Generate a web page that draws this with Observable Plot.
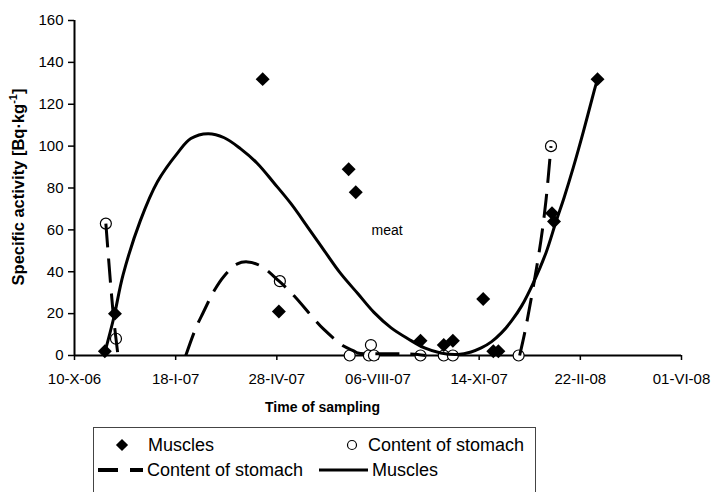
<!DOCTYPE html>
<html>
<head>
<meta charset="utf-8">
<script src="https://cdn.jsdelivr.net/npm/d3@7"></script>
<script src="https://cdn.jsdelivr.net/npm/@observablehq/plot@0.6"></script>
<style>
  body { margin: 0; background: #fff; font-family: "Liberation Sans", Arial, sans-serif; }
  #wrap { position: relative; width: 711px; height: 492px; overflow: hidden; background: #fff; }
  #chart { position: absolute; left: 0; top: 0; }
  #legend { position: absolute; left: 93px; top: 427px; width: 441px; height: 80px; border: 1px solid #444; background: #fff; }
  #legend span { position: absolute; font-size: 18px; line-height: 1; white-space: nowrap; color: #000; }
  #legend svg { position: absolute; left: 0; top: 0; }
</style>
</head>
<body>
<div id="wrap">
  <div id="chart"></div>
  <div id="legend"></div>
</div>
<script>
// ---- axis ticks ----
const tickDates = ["2006-10-10", "2007-01-18", "2007-04-28", "2007-08-06", "2007-11-14", "2008-02-22", "2008-06-01"];
const tickLabels = ["10-X-06", "18-I-07", "28-IV-07", "06-VIII-07", "14-XI-07", "22-II-08", "01-VI-08"];
const yTicks = [0, 20, 40, 60, 80, 100, 120, 140, 160];

// ---- Muscles (diamonds) ----
const muscleDates = ["2006-11-09", "2006-11-19", "2007-04-14", "2007-04-30", "2007-07-08", "2007-07-15",
  "2007-09-17", "2007-10-10", "2007-10-19", "2007-11-18", "2007-11-28", "2007-12-03",
  "2008-01-25", "2008-01-27", "2008-03-10"];
const muscleValues = [2, 20, 132, 21, 89, 78, 7, 5, 7, 27, 2, 2, 68, 64, 132];

// ---- Content of stomach (circles) ----
const stomachDates = ["2006-11-10", "2006-11-20", "2007-05-01", "2007-07-09", "2007-07-28", "2007-07-30",
  "2007-08-02", "2007-09-17", "2007-10-10", "2007-10-19", "2007-12-23", "2008-01-24"];
const stomachValues = [63, 8, 35.5, 0, 0, 5, 0, 0, 0, 0, 0, 100];

// ---- Muscles trend (solid) ----
const muscleTrendDates = ["2006-11-09", "2006-11-18", "2006-11-27", "2006-12-14", "2006-12-31", "2007-01-20",
  "2007-02-02", "2007-02-19", "2007-03-07", "2007-03-23", "2007-04-09", "2007-04-25", "2007-05-12",
  "2007-05-29", "2007-06-14", "2007-06-30", "2007-07-17", "2007-08-02", "2007-08-19", "2007-09-05",
  "2007-09-21", "2007-10-07", "2007-10-24", "2007-11-06", "2007-11-16", "2007-11-26", "2007-12-06",
  "2007-12-16", "2007-12-26", "2008-01-07", "2008-01-19", "2008-01-29", "2008-02-06", "2008-02-15",
  "2008-02-25", "2008-03-07", "2008-03-10"];
const muscleTrendValues = [1.5, 18.4, 38.5, 64.3, 83, 96.8, 103.6, 105.9, 104, 98.8, 91.6, 82.5, 72.5,
  61, 50, 39.2, 29.6, 20.6, 13.2, 7.9, 3.6, 1.2, 0.5, 1.7, 3.6, 6.5, 10.8, 16.5, 23.7, 35.2, 49,
  64, 75.5, 89.7, 106.9, 127, 132];

// ---- Content of stomach trend (dashed, visible pieces) ----
const stomachTrendPiece = ["a", "a", "a", "a",
  "b", "b", "b", "b", "b", "b", "b", "b", "b", "b", "b", "b", "b", "b", "b", "b", "b", "b", "b",
  "c", "c", "c", "c", "c", "c"];
const stomachTrendDates = ["2006-11-10", "2006-11-15", "2006-11-18", "2006-11-22",
  "2007-01-28", "2007-02-07", "2007-02-14", "2007-02-25", "2007-03-07", "2007-03-20", "2007-03-30",
  "2007-04-12", "2007-04-30", "2007-05-15", "2007-06-03", "2007-06-13", "2007-07-03", "2007-07-13",
  "2007-07-17", "2007-08-06", "2007-08-29", "2007-09-14", "2007-09-22",
  "2007-12-24", "2007-12-29", "2008-01-04", "2008-01-14", "2008-01-19", "2008-01-24"];
const stomachTrendValues = [63, 32.3, 16.5, 0,
  0, 13.2, 20.3, 30.9, 38, 43.8, 44.7, 42.8, 35.6, 28.5, 17.9, 12.7, 4.5, 2.2, 1.2, 0.8, 0.8, 0.5, 0,
  0, 10.8, 26, 54.8, 73.9, 100];

// ---- annotation ----
const noteDates = ["2007-08-15"];
const noteValues = [59.5];
const noteTexts = ["meat"];

const xLabel = "Time of sampling";
const yLabel = "Specific activity [Bq·kg-1]";
const legendLabels = ["Muscles", "Content of stomach", "Content of stomach", "Muscles"];

// ---- build tables ----
const parse = d3.utcParse("%Y-%m-%d");
const xTicks = tickDates.map(parse);
const fmt = new Map(xTicks.map((d, i) => [+d, tickLabels[i]]));
const muscles = muscleDates.map((d, i) => ({date: parse(d), value: muscleValues[i]}));
const stomach = stomachDates.map((d, i) => ({date: parse(d), value: stomachValues[i]}));
const muscleTrend = muscleTrendDates.map((d, i) => ({date: parse(d), value: muscleTrendValues[i]}));
const stomachTrend = stomachTrendDates.map((d, i) => ({date: parse(d), value: stomachTrendValues[i], piece: stomachTrendPiece[i]}));
const notes = noteDates.map((d, i) => ({date: parse(d), value: noteValues[i], text: noteTexts[i]}));

const font = '"Liberation Sans", Arial, sans-serif';

const chart = Plot.plot({
  width: 711,
  height: 425,
  marginLeft: 74,
  marginRight: 30,
  marginTop: 20,
  marginBottom: 70,
  style: {fontFamily: font, color: "#000", background: "#fff", overflow: "visible"},
  x: {type: "utc", domain: [xTicks[0], xTicks[xTicks.length - 1]]},
  y: {domain: [0, 160]},
  marks: [
    Plot.axisX({ticks: xTicks, tickFormat: (d) => fmt.get(+d), tickSize: 5, tickPadding: 13, fontSize: 15, strokeWidth: 1.5, label: null}),
    Plot.axisY({ticks: yTicks, tickSize: 6, tickPadding: 5, fontSize: 15, strokeWidth: 1.5, label: null}),
    Plot.ruleY([0], {strokeWidth: 2, stroke: "#000"}),
    Plot.ruleX([xTicks[0]], {strokeWidth: 2, stroke: "#000"}),
    Plot.dot(stomach, {x: "date", y: "value", r: 5.5, fill: "white", stroke: "#000", strokeWidth: 1.2}),
    Plot.dot(muscles, {x: "date", y: "value", symbol: "diamond2", r: 6.3, fill: "#000", stroke: "none"}),
    Plot.line(stomachTrend, {x: "date", y: "value", z: "piece", curve: "catmull-rom", stroke: "#000", strokeWidth: 3, strokeDasharray: "24,11", strokeLinecap: "butt"}),
    Plot.line(muscleTrend, {x: "date", y: "value", curve: "catmull-rom", stroke: "#000", strokeWidth: 3}),
    Plot.text(notes, {x: "date", y: "value", text: "text", fontSize: 14, fill: "#000"}),
    Plot.text([xLabel], {text: (d) => d, frameAnchor: "bottom", lineAnchor: "middle", textAnchor: "middle", dx: -55.5, dy: 52, fontSize: 14, fontWeight: "bold", fill: "#000"}),
    Plot.text([yLabel], {text: (d) => d, frameAnchor: "left", textAnchor: "middle", lineAnchor: "middle", rotate: -90, dx: -56, dy: -1, fontSize: 16.5, fontWeight: "bold", fill: "#000"})
  ]
});
document.getElementById("chart").appendChild(chart);

// superscript for the unit exponent
d3.select(chart).selectAll("text").filter(function () { return this.textContent === yLabel; }).each(function () {
  const t = d3.select(this);
  t.text(null);
  t.append("tspan").text("Specific activity [Bq·kg");
  t.append("tspan").attr("dy", -7).attr("font-size", "11px").text("-1");
  t.append("tspan").attr("dy", 7).text("]");
});

// ---- legend (below the SVG) ----
const legend = d3.select("#legend");
const ls = legend.append("svg").attr("width", 441).attr("height", 80);
ls.append("path").attr("d", d3.symbol(d3.symbolDiamond2, 95)()).attr("transform", "translate(28,17)").attr("fill", "#000");
ls.append("circle").attr("cx", 258).attr("cy", 17).attr("r", 4.5).attr("fill", "#fff").attr("stroke", "#000").attr("stroke-width", 1.2);
ls.append("line").attr("x1", 4).attr("x2", 49).attr("y1", 42).attr("y2", 42).attr("stroke", "#000").attr("stroke-width", 4).attr("stroke-dasharray", "20,12");
ls.append("line").attr("x1", 225).attr("x2", 274).attr("y1", 42).attr("y2", 42).attr("stroke", "#000").attr("stroke-width", 3);
const legendPos = [[54, 17], [274, 17], [53, 42], [278, 42]];
legendLabels.forEach((t, i) => {
  legend.append("span").style("left", legendPos[i][0] + "px").style("top", (legendPos[i][1] - 8.8) + "px").text(t);
});
</script>
</body>
</html>
